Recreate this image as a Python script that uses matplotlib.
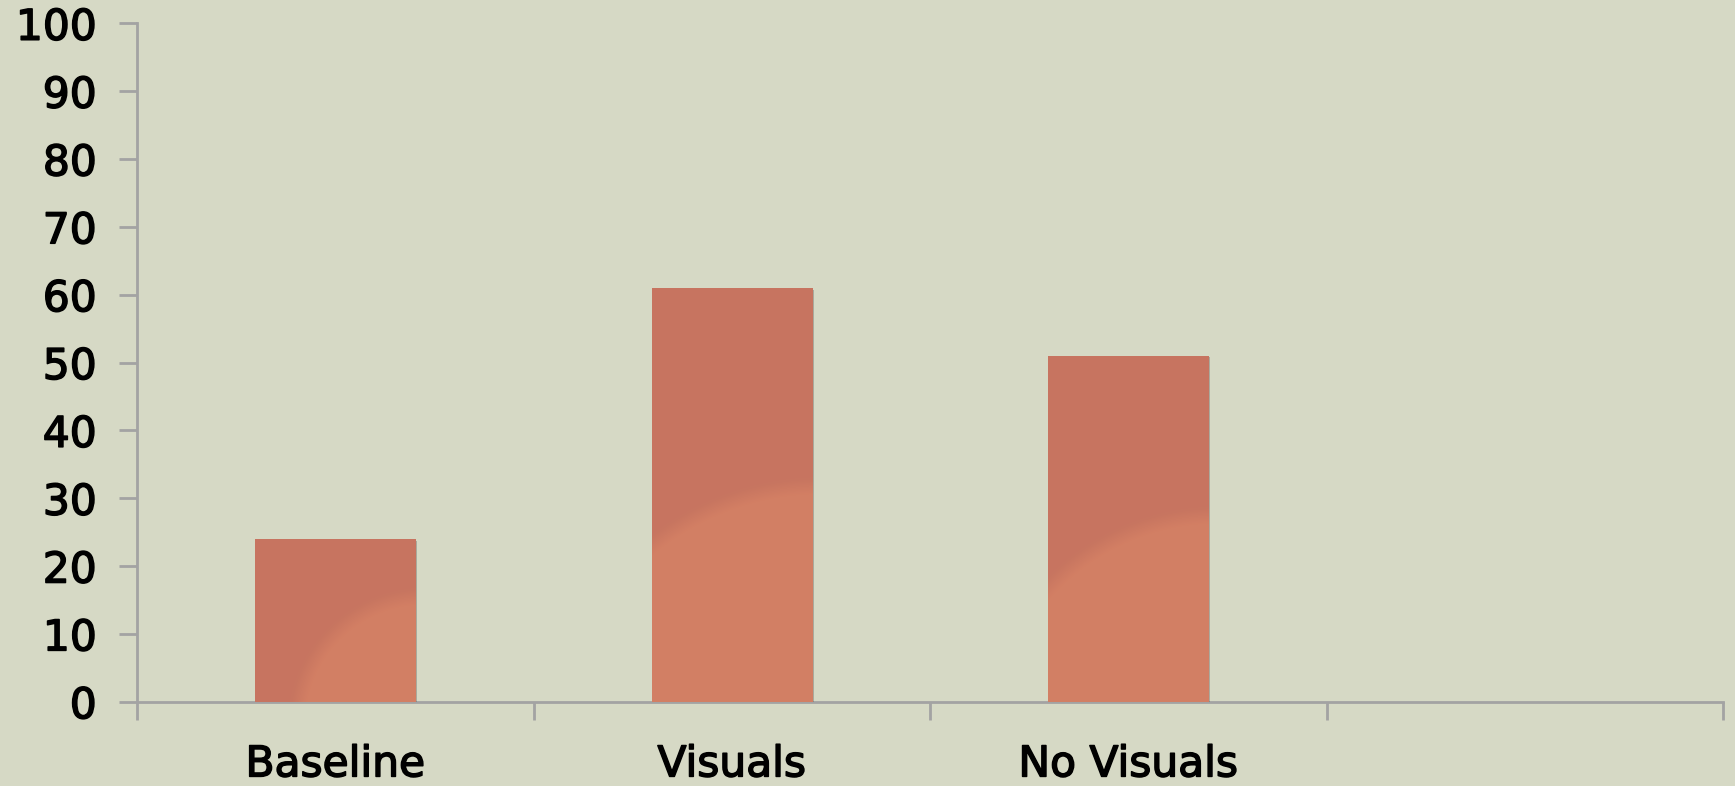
import numpy as np
import matplotlib
matplotlib.use("Agg")
import matplotlib.pyplot as plt
import matplotlib.patheffects as pe

# survey scores per condition (4th slot left empty)
categories = ["Baseline", "Visuals", "No Visuals", ""]
scores = [24, 61, 51]
y_ticks = list(range(0, 101, 10))

bg = "#D6D9C5"
bar_dark = np.array([199, 117, 96]) / 255.0
bar_light = np.array([211, 127, 100]) / 255.0
axis_col = "#A3A3A3"

fig = plt.figure(figsize=(17.35, 7.86), dpi=100, facecolor=bg)
ax = fig.add_axes([0.0790, 0.1072, 0.9141, 0.8632], facecolor=bg)

x = np.arange(len(scores))
bar_w = 0.404
bars = ax.bar(x, scores, width=bar_w, color=bar_dark, zorder=2,
              path_effects=[pe.SimplePatchShadow(offset=(1.2, -1.2), shadow_rgbFace="#555555", alpha=0.35),
                            pe.Normal()])

ax.set_xlim(-0.5, len(categories) - 0.5)
ax.set_ylim(0, 100)

# light radial patch in the lower-right of each bar
fig.canvas.draw()
for rect in bars:
    x0, y0 = rect.get_x(), rect.get_y()
    x1, y1 = x0 + rect.get_width(), y0 + rect.get_height()
    (px0, py0), (px1, py1) = ax.transData.transform([(x0, y0), (x1, y1)])
    w_px, h_px = px1 - px0, py1 - py0
    nx, ny = int(w_px) + 1, int(h_px) + 1
    gx, gy = np.meshgrid(np.linspace(0, w_px, nx), np.linspace(h_px, 0, ny))
    cx, cy = w_px * 1.06, -0.14 * h_px
    rad = 0.58 * h_px + 0.21 * w_px
    d = np.hypot(gx - cx, gy - cy)
    t = np.clip((rad + 8 - d) / 16.0, 0, 1)[..., None]
    img = bar_dark * (1 - t) + bar_light * t
    im = ax.imshow(img, extent=(x0, x1, y0, y1), aspect="auto", zorder=2.5,
                   interpolation="bilinear")
    im.set_clip_path(rect)

ax.set_xlim(-0.5, len(categories) - 0.5)
ax.set_ylim(0, 100)

for side in ("top", "right"):
    ax.spines[side].set_visible(False)
for side in ("left", "bottom"):
    ax.spines[side].set_color(axis_col)
    ax.spines[side].set_linewidth(2)
    ax.spines[side].set_zorder(1)

ax.set_yticks(y_ticks)
ax.set_yticklabels([str(v) for v in y_ticks])
ax.tick_params(axis="y", length=13, width=2, color=axis_col, pad=16,
               labelsize=30.5, labelcolor="black")

# category boundaries get the tick marks, names sit in between
ax.set_xticks(np.arange(len(categories) + 1) - 0.5)
ax.set_xticklabels([])
ax.set_xticks(np.arange(len(categories)), minor=True)
ax.set_xticklabels(categories, minor=True)
ax.tick_params(axis="x", which="major", length=13, width=2, color=axis_col, direction="out")
ax.tick_params(axis="x", which="minor", length=0, pad=30, labelsize=30.5, labelcolor="black")

# heavier strokes for the labels
bold = [pe.withStroke(linewidth=1.1, foreground="black")]
for lbl in ax.get_yticklabels() + ax.get_xticklabels(minor=True):
    lbl.set_path_effects(bold)

fig.savefig("out.png", dpi=100, facecolor=bg)
